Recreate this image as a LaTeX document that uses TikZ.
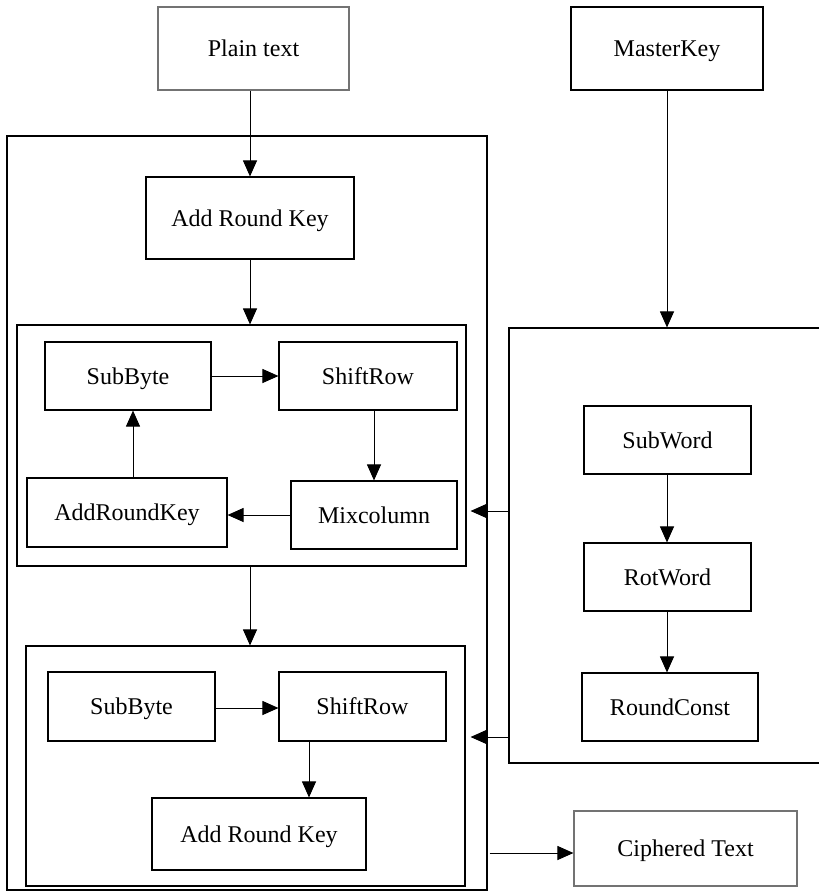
\documentclass[tikz,border=0pt]{standalone}
\usepackage{fontspec}
\setmainfont{Liberation Serif}
\usetikzlibrary{arrows.meta}
\begin{document}
\begin{tikzpicture}[x=1pt,y=-1pt,
  box/.style={draw=black,line width=1.1pt,inner sep=0pt,align=center,
    text height=16pt,text depth=0pt,
    font=\fontsize{24}{28}\selectfont},
  softbox/.style={box,draw=black!55},
  frame/.style={draw=black,line width=1.1pt,inner sep=0pt},
  arr/.style={line width=1pt,-{Triangle[length=16pt,width=14pt]}}]
\useasboundingbox (0,0) rectangle (819,892);

% inputs
\node[softbox,minimum width=191pt,minimum height=83pt] (plain) at (253.5,48.5) {Plain text};
\node[box,minimum width=192pt,minimum height=83pt] (master) at (667,48.5) {MasterKey};

% cipher side: outer frame and the two round blocks
\node[frame,minimum width=480pt,minimum height=754pt] (outer) at (247,513) {};
\node[box,minimum width=208pt,minimum height=82pt] (ark1) at (250,218) {Add Round Key};

\node[frame,minimum width=449pt,minimum height=241pt] (r1) at (241.5,445.5) {};
\node[box,minimum width=166pt,minimum height=68pt] (sb1) at (128,376) {SubByte};
\node[box,minimum width=178pt,minimum height=68pt] (sr1) at (368,376) {ShiftRow};
\node[box,minimum width=200pt,minimum height=69pt] (ark1b) at (127,512.5) {AddRoundKey};
\node[box,minimum width=166pt,minimum height=68pt] (mc) at (374,515) {Mixcolumn};

\node[frame,minimum width=439pt,minimum height=240pt] (r2) at (245.5,766) {};
\node[box,minimum width=167pt,minimum height=69pt] (sb2) at (131.5,706.5) {SubByte};
\node[box,minimum width=167pt,minimum height=69pt] (sr2) at (362.5,706.5) {ShiftRow};
\node[box,minimum width=214pt,minimum height=72pt] (ark2) at (259,834) {Add Round Key};

% key expansion block
\node[frame,minimum width=330pt,minimum height=435pt] (key) at (674,545.5) {};
\node[box,minimum width=167pt,minimum height=68pt] (sw) at (667.5,440) {SubWord};
\node[box,minimum width=167pt,minimum height=68pt] (rw) at (667.5,577) {RotWord};
\node[box,minimum width=176pt,minimum height=68pt] (rc) at (670,707) {RoundConst};

% output
\node[softbox,minimum width=223pt,minimum height=75pt] (cipher) at (685.5,848.5) {Ciphered Text};

% data flow
\draw[arr] (plain.south -| ark1.north) -- (ark1.north);
\draw[arr] (ark1.south) -- (ark1.south |- r1.north);
\draw[arr] (sb1.east) -- (sr1.west);
\draw[arr] (sr1.south -| mc.north) -- (mc.north);
\draw[arr] (mc.west) -- (mc.west -| ark1b.east);
\draw[arr] ([xshift=6pt]ark1b.north) -- ([xshift=6pt]ark1b.north |- sb1.south);
\draw[arr] (ark1.south |- r1.south) -- (ark1.south |- r2.north);
\draw[arr] (sb2.east |- 0,708) -- (sr2.west |- 0,708);
\draw[arr] ([xshift=-53.5pt]sr2.south) -- ([xshift=-53.5pt]sr2.south |- ark2.north);

% key schedule
\draw[arr] (master.south) -- (master.south |- key.north);
\draw[arr] (sw.south -| master.south) -- (rw.north -| master.south);
\draw[arr] (rw.south -| master.south) -- (rc.north -| master.south);
\draw[arr] (key.west |- 0,511) -- ([xshift=4pt]r1.east |- 0,511);
\draw[arr] (key.west |- 0,737) -- ([xshift=5pt]r2.east |- 0,737);

% result
\draw[arr] ([xshift=2pt]outer.east |- 0,853) -- (cipher.west |- 0,853);
\end{tikzpicture}
\end{document}
